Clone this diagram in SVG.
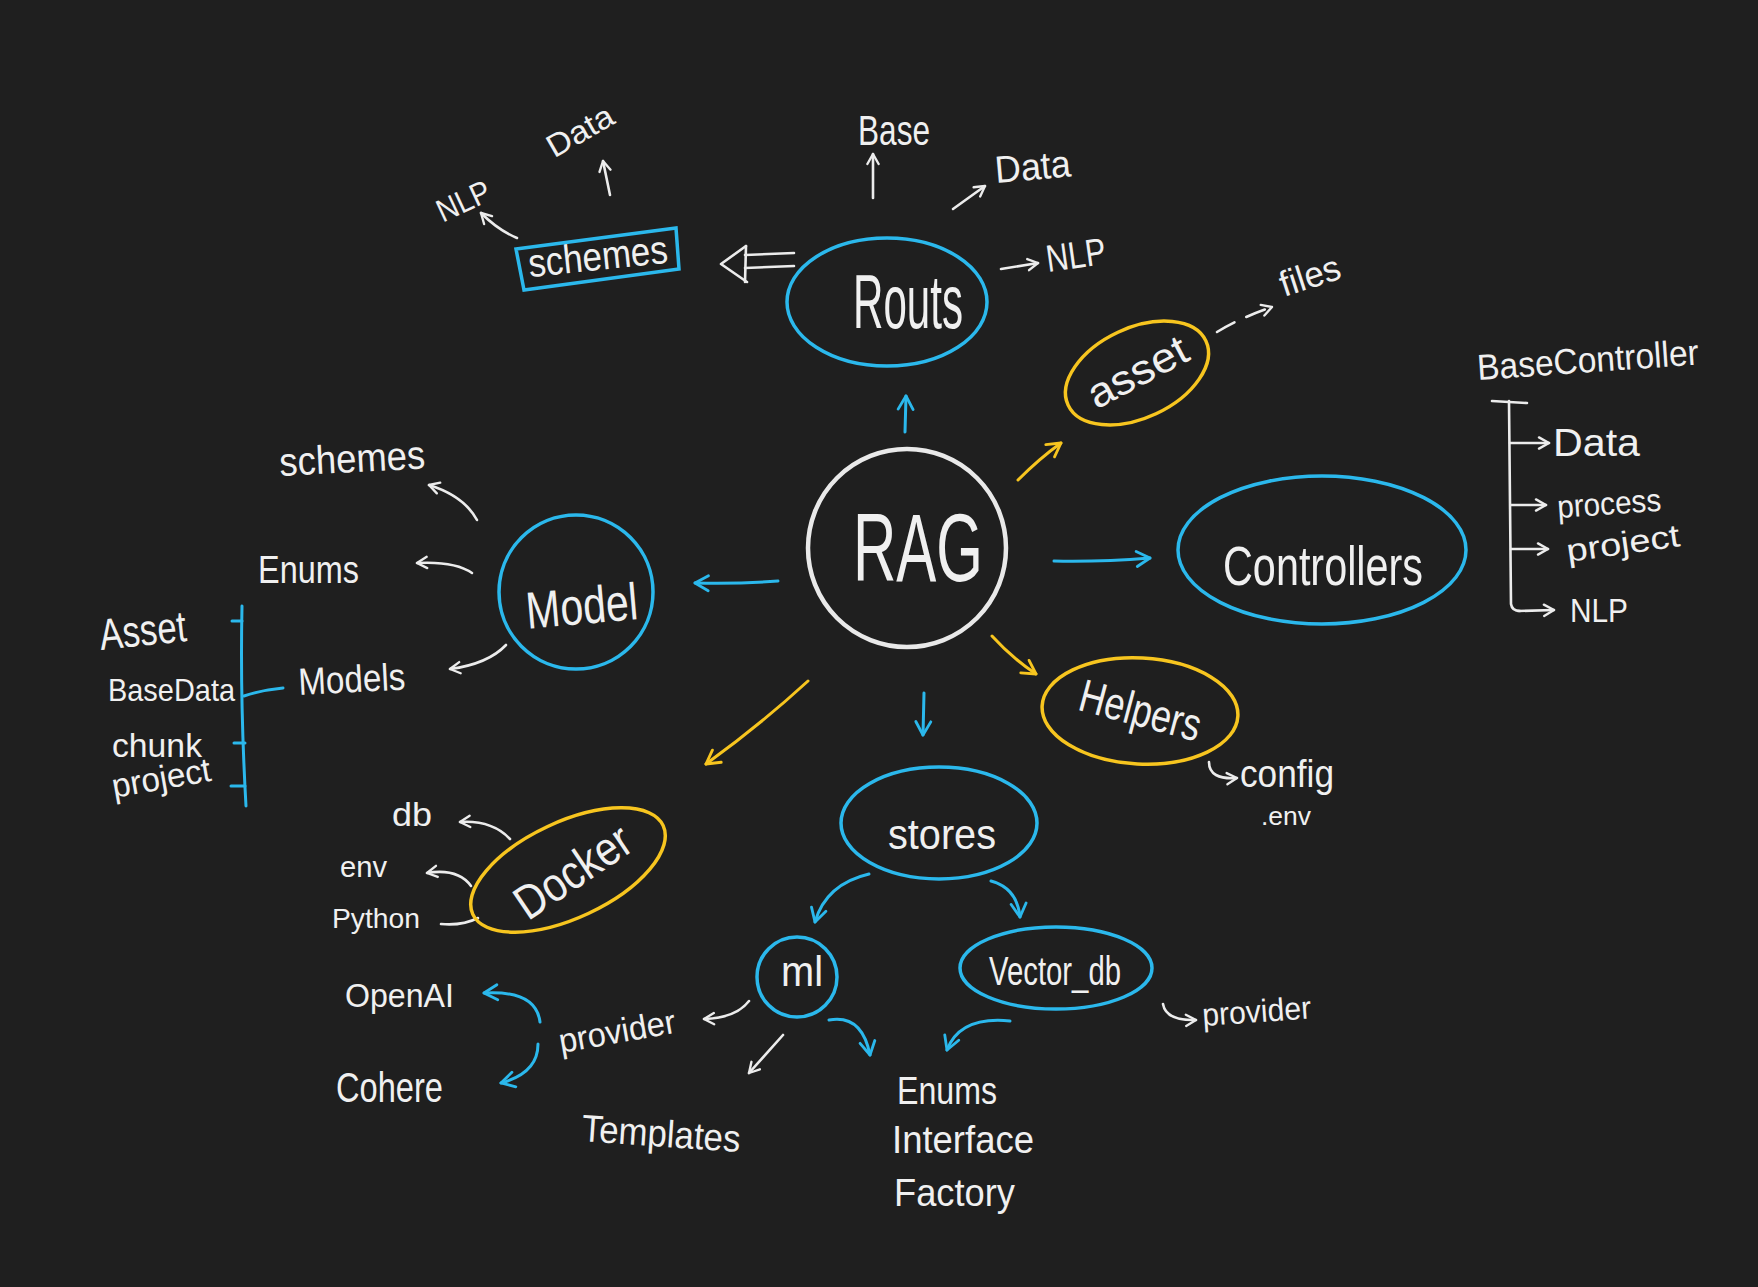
<svg xmlns="http://www.w3.org/2000/svg" width="1758" height="1287" viewBox="0 0 1758 1287">
<style>
.bg{fill:#1f1f1f}
.nb{fill:none;stroke:#2bb8ec;stroke-width:3.5}
.ny{fill:none;stroke:#f7c51f;stroke-width:3.5}
.nw{fill:none;stroke:#e9e9e9;stroke-width:4.5}
.cw{fill:none;stroke:#ececec;stroke-width:2.6;stroke-linecap:round;stroke-linejoin:round}
.cb{fill:none;stroke:#2bb8ec;stroke-width:3;stroke-linecap:round;stroke-linejoin:round}
.cy{fill:none;stroke:#f7c51f;stroke-width:3;stroke-linecap:round;stroke-linejoin:round}
text{font-family:"Liberation Sans","DejaVu Sans",sans-serif;fill:#f0f0f0}
.m{text-anchor:middle}
</style>
<defs>
<marker id="aw" viewBox="0 0 12 12" refX="10" refY="6" markerWidth="15" markerHeight="15" markerUnits="userSpaceOnUse" orient="auto"><path d="M2,1.5 L10,6 L2,10.5" fill="none" stroke="#ececec" stroke-width="1.9" stroke-linecap="round" stroke-linejoin="round"/></marker>
<marker id="ab" viewBox="0 0 12 12" refX="10" refY="6" markerWidth="20" markerHeight="20" markerUnits="userSpaceOnUse" orient="auto"><path d="M2,1.5 L10,6 L2,10.5" fill="none" stroke="#2bb8ec" stroke-width="1.7" stroke-linecap="round" stroke-linejoin="round"/></marker>
<marker id="ay" viewBox="0 0 12 12" refX="10" refY="6" markerWidth="20" markerHeight="20" markerUnits="userSpaceOnUse" orient="auto"><path d="M2,1.5 L10,6 L2,10.5" fill="none" stroke="#f7c51f" stroke-width="1.7" stroke-linecap="round" stroke-linejoin="round"/></marker>
</defs>
<rect class="bg" x="0" y="0" width="1758" height="1287"/>

<g id="connectors">
<!-- from RAG -->
<path class="cb" d="M905,432 L906,396" marker-end="url(#ab)"/>
<path class="cy" d="M1018,480 Q1040,458 1061,443" marker-end="url(#ay)"/>
<path class="cb" d="M1054,561 Q1100,562 1150,558" marker-end="url(#ab)"/>
<path class="cy" d="M992,636 Q1012,658 1036,674" marker-end="url(#ay)"/>
<path class="cb" d="M924,693 L923,735" marker-end="url(#ab)"/>
<path class="cy" d="M808,681 Q760,725 706,764" marker-end="url(#ay)"/>
<path class="cb" d="M778,581 Q740,584 695,583" marker-end="url(#ab)"/>
<!-- Routs -->
<path class="cw" d="M794,253 L745,255 M794,266 L745,268"/>
<path class="cw" d="M746,246 L721,264 L747,282"/>
<path class="cw" d="M746,246 L745,282"/>
<path class="cw" d="M873,198 L873,154" marker-end="url(#aw)"/>
<path class="cw" d="M953,209 L985,186" marker-end="url(#aw)"/>
<path class="cw" d="M1001,269 L1038,263" marker-end="url(#aw)"/>
<!-- schemes box -->
<path class="cw" d="M517,238 Q498,230 481,213" marker-end="url(#aw)"/>
<path class="cw" d="M610,195 L603,161" marker-end="url(#aw)"/>
<!-- asset -->
<path class="cw" d="M1217,332 Q1240,318 1272,307" stroke-dasharray="20 13" marker-end="url(#aw)"/>
<!-- BaseController tree -->
<path class="cw" d="M1492,401 L1527,403"/>
<path class="cw" d="M1509,401 L1511,604 Q1512,611 1520,611"/>
<path class="cw" d="M1510,443 L1549,443" marker-end="url(#aw)"/>
<path class="cw" d="M1511,505 L1546,505" marker-end="url(#aw)"/>
<path class="cw" d="M1511,549 L1548,549" marker-end="url(#aw)"/>
<path class="cw" d="M1518,611 L1554,610" marker-end="url(#aw)"/>
<!-- Model -->
<path class="cw" d="M477,520 Q464,496 429,485" marker-end="url(#aw)"/>
<path class="cw" d="M472,573 Q455,561 417,563" marker-end="url(#aw)"/>
<path class="cw" d="M506,645 Q488,664 450,669" marker-end="url(#aw)"/>
<!-- Models bracket -->
<path class="cb" d="M242,606 Q240,700 246,806"/>
<path class="cb" d="M232,621 L242,621"/>
<path class="cb" d="M244,696 Q262,690 283,688"/>
<path class="cb" d="M234,743 L245,743"/>
<path class="cb" d="M231,786 L245,786"/>
<!-- Docker -->
<path class="cw" d="M510,839 Q492,820 460,822" marker-end="url(#aw)"/>
<path class="cw" d="M471,886 Q458,868 427,873" marker-end="url(#aw)"/>
<path class="cw" d="M441,924 Q462,926 478,918"/>
<!-- stores -->
<path class="cb" d="M869,874 Q826,884 815,922" marker-end="url(#ab)"/>
<path class="cb" d="M991,881 Q1017,888 1020,917" marker-end="url(#ab)"/>
<!-- ml -->
<path class="cw" d="M749,1001 Q736,1018 704,1019" marker-end="url(#aw)"/>
<path class="cw" d="M783,1035 L749,1073" marker-end="url(#aw)"/>
<path class="cb" d="M829,1020 Q862,1014 870,1055" marker-end="url(#ab)"/>
<!-- vector_db -->
<path class="cb" d="M1010,1021 Q960,1016 947,1050" marker-end="url(#ab)"/>
<path class="cw" d="M1163,1004 Q1166,1021 1196,1020" marker-end="url(#aw)"/>
<!-- provider -->
<path class="cb" d="M540,1022 Q536,990 484,993" marker-end="url(#ab)"/>
<path class="cb" d="M538,1044 Q538,1073 501,1083" marker-end="url(#ab)"/>
<!-- helpers -->
<path class="cw" d="M1209,762 Q1209,780 1237,778" marker-end="url(#aw)"/>
</g>

<g id="node-rag">
<circle class="nw" cx="907" cy="548" r="99"/>
<text class="m" x="918" y="581" font-size="96" textLength="130" lengthAdjust="spacingAndGlyphs">RAG</text>
</g>
<g id="node-routs">
<ellipse class="nb" cx="887" cy="302" rx="100" ry="64"/>
<text class="m" x="908" y="328" font-size="76" textLength="110" lengthAdjust="spacingAndGlyphs">Routs</text>
</g>
<g id="node-schemes-box">
<polygon class="nb" points="516,249 676,228 679,269 524,290"/>
<text class="m" x="598" y="270" font-size="40" textLength="140" lengthAdjust="spacingAndGlyphs" transform="rotate(-6 598 258)">schemes</text>
</g>
<g id="node-asset">
<ellipse class="nb" cx="1137" cy="373" rx="76" ry="45" transform="rotate(-25 1137 373)" style="stroke:#f7c51f"/>
<text class="m" x="1138" y="386" font-size="42" textLength="108" lengthAdjust="spacingAndGlyphs" transform="rotate(-28 1138 373)">asset</text>
</g>
<g id="node-controllers">
<ellipse class="nb" cx="1322" cy="550" rx="144" ry="74"/>
<text class="m" x="1323" y="585" font-size="56" textLength="200" lengthAdjust="spacingAndGlyphs">Controllers</text>
</g>
<g id="node-model">
<circle class="nb" cx="576" cy="592" r="77"/>
<text class="m" x="582" y="624" font-size="52" textLength="112" lengthAdjust="spacingAndGlyphs" transform="rotate(-5 582 608)">Model</text>
</g>
<g id="node-helpers">
<ellipse class="ny" cx="1140" cy="711" rx="98" ry="53" transform="rotate(3 1140 711)"/>
<text class="m" x="1140" y="726" font-size="46" textLength="124" lengthAdjust="spacingAndGlyphs" transform="rotate(15 1140 712)">Helpers</text>
</g>
<g id="node-stores">
<ellipse class="nb" cx="939" cy="823" rx="98" ry="56"/>
<text class="m" x="942" y="849" font-size="42" textLength="108" lengthAdjust="spacingAndGlyphs">stores</text>
</g>
<g id="node-docker">
<ellipse class="ny" cx="568" cy="870" rx="105" ry="48" transform="rotate(-25 568 870)"/>
<text class="m" x="573" y="888" font-size="48" textLength="130" lengthAdjust="spacingAndGlyphs" transform="rotate(-34 573 872)">Docker</text>
</g>
<g id="node-ml">
<circle class="nb" cx="797" cy="977" r="40"/>
<text class="m" x="802" y="986" font-size="42" textLength="42" lengthAdjust="spacingAndGlyphs">ml</text>
</g>
<g id="node-vectordb">
<ellipse class="nb" cx="1056" cy="968" rx="96" ry="41"/>
<text class="m" x="1055" y="985" font-size="40" textLength="132" lengthAdjust="spacingAndGlyphs">Vector_db</text>
</g>

<g id="labels">
<text x="858" y="145" font-size="42" textLength="72" lengthAdjust="spacingAndGlyphs">Base</text>
<text x="996" y="183" font-size="38" textLength="76" lengthAdjust="spacingAndGlyphs" transform="rotate(-5 996 183)">Data</text>
<text x="1048" y="272" font-size="38" textLength="60" lengthAdjust="spacingAndGlyphs" transform="rotate(-8 1048 272)">NLP</text>
<text class="m" x="580" y="142" font-size="32" textLength="72" lengthAdjust="spacingAndGlyphs" transform="rotate(-30 580 131)">Data</text>
<text class="m" x="463" y="212" font-size="32" textLength="56" lengthAdjust="spacingAndGlyphs" transform="rotate(-25 463 200)">NLP</text>
<text class="m" x="1310" y="288" font-size="36" textLength="62" lengthAdjust="spacingAndGlyphs" transform="rotate(-18 1310 276)">files</text>
<text x="1478" y="380" font-size="36" textLength="222" lengthAdjust="spacingAndGlyphs" transform="rotate(-4 1478 380)">BaseController</text>
<text x="1553" y="456" font-size="38" textLength="87" lengthAdjust="spacingAndGlyphs">Data</text>
<text x="1558" y="518" font-size="32" textLength="104" lengthAdjust="spacingAndGlyphs" transform="rotate(-4 1558 518)">process</text>
<text x="1568" y="562" font-size="32" textLength="114" lengthAdjust="spacingAndGlyphs" transform="rotate(-8 1568 562)">project</text>
<text x="1570" y="622" font-size="34" textLength="58" lengthAdjust="spacingAndGlyphs">NLP</text>
<text x="280" y="476" font-size="40" textLength="146" lengthAdjust="spacingAndGlyphs" transform="rotate(-3 280 476)">schemes</text>
<text x="258" y="583" font-size="38" textLength="101" lengthAdjust="spacingAndGlyphs">Enums</text>
<text x="299" y="695" font-size="38" textLength="107" lengthAdjust="spacingAndGlyphs" transform="rotate(-3 299 695)">Models</text>
<text x="101" y="650" font-size="44" textLength="87" lengthAdjust="spacingAndGlyphs" transform="rotate(-6 101 650)">Asset</text>
<text x="108" y="701" font-size="32" textLength="127" lengthAdjust="spacingAndGlyphs">BaseData</text>
<text x="112" y="757" font-size="34" textLength="90" lengthAdjust="spacingAndGlyphs">chunk</text>
<text x="114" y="798" font-size="34" textLength="100" lengthAdjust="spacingAndGlyphs" transform="rotate(-10 114 798)">project</text>
<text x="392" y="826" font-size="34" textLength="40" lengthAdjust="spacingAndGlyphs">db</text>
<text x="340" y="877" font-size="30" textLength="47" lengthAdjust="spacingAndGlyphs">env</text>
<text x="332" y="928" font-size="28" textLength="88" lengthAdjust="spacingAndGlyphs">Python</text>
<text x="345" y="1007" font-size="34" textLength="109" lengthAdjust="spacingAndGlyphs">OpenAI</text>
<text x="336" y="1102" font-size="42" textLength="107" lengthAdjust="spacingAndGlyphs">Cohere</text>
<text class="m" x="617" y="1043" font-size="34" textLength="118" lengthAdjust="spacingAndGlyphs" transform="rotate(-10 617 1031)">provider</text>
<text x="581" y="1141" font-size="38" textLength="159" lengthAdjust="spacingAndGlyphs" transform="rotate(4 581 1141)">Templates</text>
<text x="897" y="1104" font-size="38" textLength="100" lengthAdjust="spacingAndGlyphs">Enums</text>
<text x="892" y="1153" font-size="38" textLength="142" lengthAdjust="spacingAndGlyphs">Interface</text>
<text x="894" y="1206" font-size="38" textLength="121" lengthAdjust="spacingAndGlyphs">Factory</text>
<text x="1203" y="1026" font-size="32" textLength="109" lengthAdjust="spacingAndGlyphs" transform="rotate(-4 1203 1026)">provider</text>
<text x="1240" y="787" font-size="38" textLength="94" lengthAdjust="spacingAndGlyphs">config</text>
<text x="1261" y="825" font-size="26" textLength="50" lengthAdjust="spacingAndGlyphs">.env</text>
</g>
</svg>
